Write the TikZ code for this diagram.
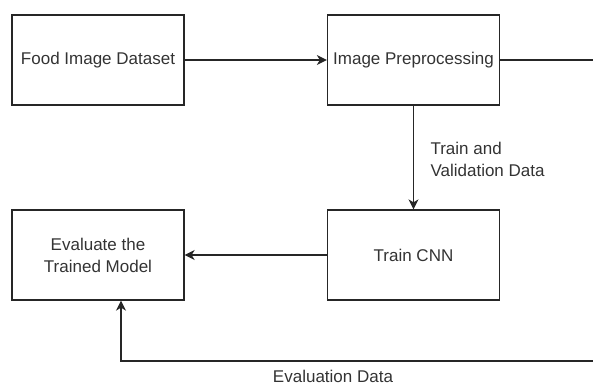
\documentclass[tikz,border=0pt]{standalone}
\usepackage{fontspec}
\setmainfont{Liberation Sans}
\usetikzlibrary{arrows.meta}
\definecolor{txt}{HTML}{333333}
\begin{document}
\begin{tikzpicture}[x=1pt,y=-1pt,
  box/.style={draw=black!85,line width=1.3pt,minimum width=172pt,minimum height=90pt,inner sep=0pt,
    font=\fontsize{17}{22}\selectfont,text=txt,align=center},
  conn/.style={draw=black!85,line width=1.3pt},
  arr/.style={conn,-{Stealth[length=10pt,width=10pt,inset=3pt]}},
  lbl/.style={font=\fontsize{17}{22}\selectfont,text=txt,align=left}]
\useasboundingbox (0,0) rectangle (593,386);
\node[box] (food) at (98,60) {Food Image Dataset};
\node[box] (prep) at (413.5,60) {Image Preprocessing};
\node[box] (cnn) at (413.5,255) {Train CNN};
\node[box] (eval) at (98,255) {Evaluate the\\Trained Model};
\coordinate (r1) at (594.5,60);
\coordinate (r2) at (594.5,361);
\coordinate (r3) at (121,361);
\draw[arr] (food) -- (prep);
\draw[arr] (prep) -- (cnn);
\draw[arr] (cnn) -- (eval);
\draw[arr] (prep.east) -- (r1) -- (r2) -- (r3) -- (eval.south -| r3);
\node[lbl,anchor=west] (tv) at (427,159) {Train and\\Validation Data};
\node[lbl,inner sep=1pt] (ev) at (333,376) {Evaluation Data};
\end{tikzpicture}
\end{document}
